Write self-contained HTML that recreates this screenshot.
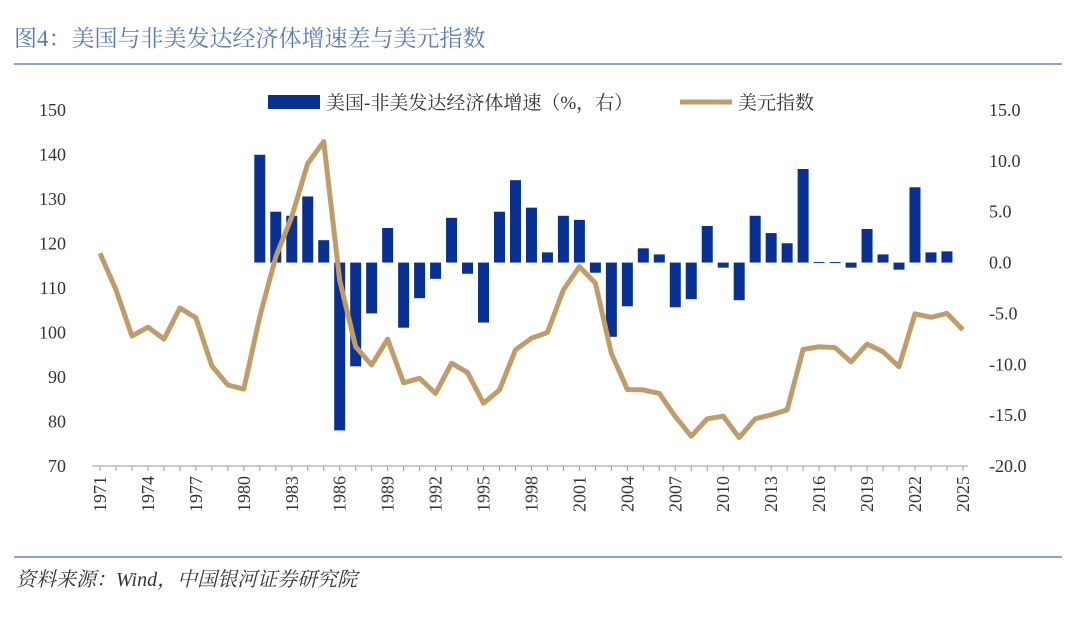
<!DOCTYPE html>
<html><head><meta charset="utf-8"><style>
body{margin:0;background:#fff;width:1080px;height:620px;overflow:hidden;font-family:"Liberation Serif","Noto Serif CJK SC",serif}
</style></head><body>
<svg id="c" width="1080" height="620" xmlns="http://www.w3.org/2000/svg">
<text x="14" y="46" font-size="23" fill="#5b7cb3" font-family="Liberation Serif,Noto Serif CJK SC,serif">图4：美国与非美发达经济体增速差与美元指数</text>
<line x1="14" y1="64" x2="1062" y2="64" stroke="#8ea3c8" stroke-width="2"/>
<line x1="14" y1="557" x2="1062" y2="557" stroke="#8ea3c8" stroke-width="2"/>
<text x="16" y="586" font-size="20" font-style="italic" fill="#333">资料来源：Wind，中国银河证券研究院</text>
<g>
<rect x="268" y="95" width="52" height="14" fill="#0a318f"/>
<text x="326" y="109" font-size="19" fill="#333">美国-非美发达经济体增速（%，右）</text>
<line x1="680" y1="102" x2="732" y2="102" stroke="#bf9d6b" stroke-width="5"/>
<text x="738" y="109" font-size="19" fill="#333">美元指数</text>
</g>
<g id="g"></g>
</svg>
<script>
const years=[];for(let y=1971;y<=2025;y++)years.push(y);
const barYears=[1981,1982,1983,1984,1985,1986,1987,1988,1989,1990,1991,1992,1993,1994,1995,1996,1997,1998,1999,2000,2001,2002,2003,2004,2005,2006,2007,2008,2009,2010,2011,2012,2013,2014,2015,2016,2017,2018,2019,2020,2021,2022,2023,2024];
const growthDiff=[10.6,5.0,4.6,6.5,2.2,-16.5,-10.2,-5.0,3.4,-6.4,-3.5,-1.6,4.4,-1.1,-5.9,5.0,8.1,5.4,1.0,4.6,4.2,-1.0,-7.3,-4.3,1.4,0.8,-4.4,-3.6,3.6,-0.5,-3.7,4.6,2.9,1.9,9.2,0.05,0.05,-0.5,3.3,0.8,-0.7,7.4,1.0,1.1];
const dxy=[117.8,109.6,99.2,101.2,98.5,105.5,103.3,92.5,88.2,87.3,103.6,117.0,126.0,138.0,142.9,111.7,96.8,92.7,98.5,88.7,89.7,86.3,93.1,91.0,84.1,87.1,96.1,98.7,100.0,109.6,114.8,111.1,95.3,87.2,87.1,86.3,81.1,76.7,80.6,81.2,76.4,80.6,81.5,82.6,96.2,96.8,96.6,93.4,97.4,95.7,92.3,104.2,103.4,104.3,100.6];
const leftTicks=[70,80,90,100,110,120,130,140,150];
const rightTicks=[-20,-15,-10,-5,0,5,10,15];
const xLabels=[1971,1974,1977,1980,1983,1986,1989,1992,1995,1998,2001,2004,2007,2010,2013,2016,2019,2022,2025];
const X=y=>100+(y-1971)*15.98;
const YL=v=>466-(v-70)*(356/80);
const YR=v=>466-(v+20)*(356/35);
const NS="http://www.w3.org/2000/svg",g=document.getElementById('g');
function mk(t,a){const e=document.createElementNS(NS,t);for(const k in a)e.setAttribute(k,a[k]);g.appendChild(e);return e;}
leftTicks.forEach(v=>{const t=mk('text',{x:66,y:YL(v)+6,'text-anchor':'end','font-size':18,fill:'#333'});t.textContent=v;

});
rightTicks.forEach(v=>{const t=mk('text',{x:989,y:YR(v)+6,'font-size':18,fill:'#333'});t.textContent=v.toFixed(1);

});
barYears.forEach((y,i)=>{const v=growthDiff[i],a=YR(0),b=YR(v);
const r=mk('rect',{x:X(y)-5.5,y:Math.min(a,b),width:11,height:Math.max(1,Math.abs(a-b)),fill:'#0a318f'});

});
const ax=mk('line',{x1:92,y1:466,x2:968,y2:466,stroke:'#999','stroke-width':1});


years.forEach(y=>{const t=mk('line',{x1:X(y),y1:466,x2:X(y),y2:471,stroke:'#999'});

});
xLabels.forEach(y=>{const t=mk('text',{x:0,y:0,'text-anchor':'end','font-size':18,fill:'#333',transform:`translate(${X(y)+6},476) rotate(-90)`});t.textContent=y;

});
const p=mk('polyline',{points:years.map((y,i)=>X(y)+','+YL(dxy[i])).join(' '),fill:'none',stroke:'#bf9d6b','stroke-width':5,'stroke-linejoin':'round'});


</script>
</body></html>
